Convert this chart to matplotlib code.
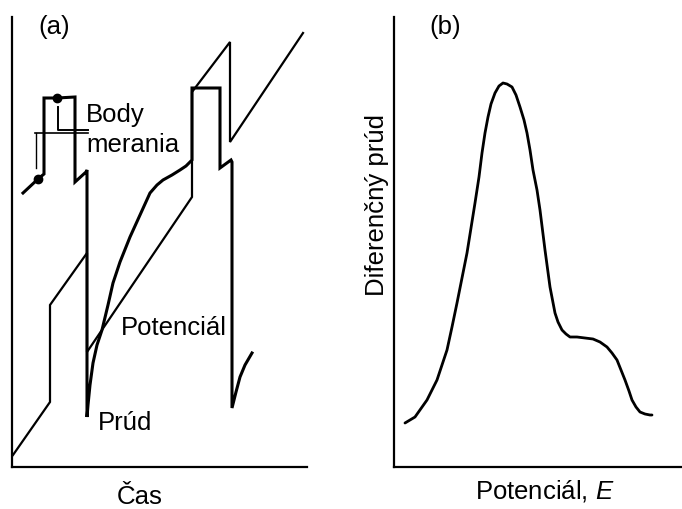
import matplotlib as mpl
import matplotlib.pyplot as plt

# Panel (a): time axis and signal (arbitrary units)
pot_t = [1, 38, 38, 75, 75, 180, 180, 218, 218, 291]
pot_v = [12, 65, 162, 214, 115, 270, 375, 425, 325, 434]

cur_t = [11, 26, 32, 32, 45, 63, 63, 74, 75, 75, 76, 78, 81, 85, 90, 96, 101,
         108, 118, 128, 138, 145, 151, 160, 168, 174, 180, 180, 208, 208, 219,
         220, 220, 224, 228, 233, 240]
cur_i = [274, 288, 293, 369, 369, 370, 285, 295, 297, 50, 62, 82, 104, 122, 137,
         162, 184, 205, 230, 252, 274, 282, 287, 292, 297, 301, 307, 379, 379,
         299, 307, 305, 59, 75, 90, 102, 114]

# sampling-point markers ("Body merania")
mark_l_t = [46, 46, 76]
mark_l_v = [360, 337, 337]
mark_h_t = [23, 76]
mark_h_v = [334, 334]
mark_v_t = [24, 24]
mark_v_v = [334, 299]
dot_t = [26, 45]
dot_v = [288, 369]

# Panel (b): differential current vs potential
pot_e = [11, 21, 33, 43, 53, 58, 63, 68, 73, 77, 81, 85, 88, 91, 94, 97, 101,
         105, 109, 113, 118, 122, 126, 130, 133, 136, 139, 143, 146, 151, 156,
         161, 164, 168, 172, 176, 183, 191, 199, 206, 213, 218, 223, 227, 231,
         235, 238, 242, 246, 251, 256, 258]
diff_i = [44, 50, 67, 87, 117, 140, 164, 189, 214, 239, 264, 290, 314, 334, 350,
          363, 374, 381, 384, 383, 380, 372, 360, 347, 334, 317, 297, 277, 257,
          217, 180, 154, 145, 137, 133, 130, 130, 129, 128, 125, 120, 114, 107,
          97, 87, 76, 67, 60, 55, 53, 52, 52]

mpl.rcParams['font.family'] = ['Liberation Sans', 'DejaVu Sans']
mpl.rcParams['font.size'] = 18.5
mpl.rcParams['mathtext.fontset'] = 'custom'
mpl.rcParams['mathtext.rm'] = 'Liberation Sans'
mpl.rcParams['mathtext.it'] = 'Liberation Sans:italic'

W, H = 682, 509
fig = plt.figure(figsize=(W / 100, H / 100), dpi=100)

ax_a = fig.add_axes([12 / W, (H - 467) / H, 295 / W, 450 / H])
ax_b = fig.add_axes([394 / W, (H - 467) / H, 288 / W, 450 / H])

for ax, xmax in ((ax_a, 295), (ax_b, 288)):
    ax.set_xlim(0, xmax)
    ax.set_ylim(0, 450)
    ax.set_xticks([])
    ax.set_yticks([])
    for side in ('top', 'right'):
        ax.spines[side].set_visible(False)
    for side in ('left', 'bottom'):
        ax.spines[side].set_linewidth(1.6)
    ax.patch.set_alpha(0)

# (a)
ax_a.plot(pot_t, pot_v, color='black', lw=1.6, solid_joinstyle='miter')
ax_a.plot(cur_t, cur_i, color='black', lw=2.2, solid_joinstyle='miter')
ax_a.plot(mark_l_t, mark_l_v, color='black', lw=1.4)
ax_a.plot(mark_h_t, mark_h_v, color='black', lw=1.2)
ax_a.plot(mark_v_t, mark_v_v, color='black', lw=1.0)
ax_a.plot(dot_t, dot_v, 'o', color='black', ms=6, ls='none')

ax_a.text(42, 440, '(a)', ha='center', va='center')
ax_a.text(74, 352, 'Body', ha='left', va='center')
ax_a.text(74, 322, 'merania', ha='left', va='center')
ax_a.text(109, 139, 'Potenciál', ha='left', va='center')
ax_a.text(86, 44, 'Prúd', ha='left', va='center')
ax_a.text(128, -30, 'Čas', ha='center', va='center', clip_on=False)

# (b)
ax_b.plot(pot_e, diff_i, color='black', lw=2.0,
          solid_joinstyle='round', solid_capstyle='round')
ax_b.text(51, 440, '(b)', ha='center', va='center')
ax_b.text(151, -24, 'Potenciál, $E$', ha='center', va='center', clip_on=False)
ax_b.text(-17, 262, 'Diferenčný prúd', ha='center', va='center',
          rotation=90, clip_on=False)

fig.savefig('out.png', dpi=100)
